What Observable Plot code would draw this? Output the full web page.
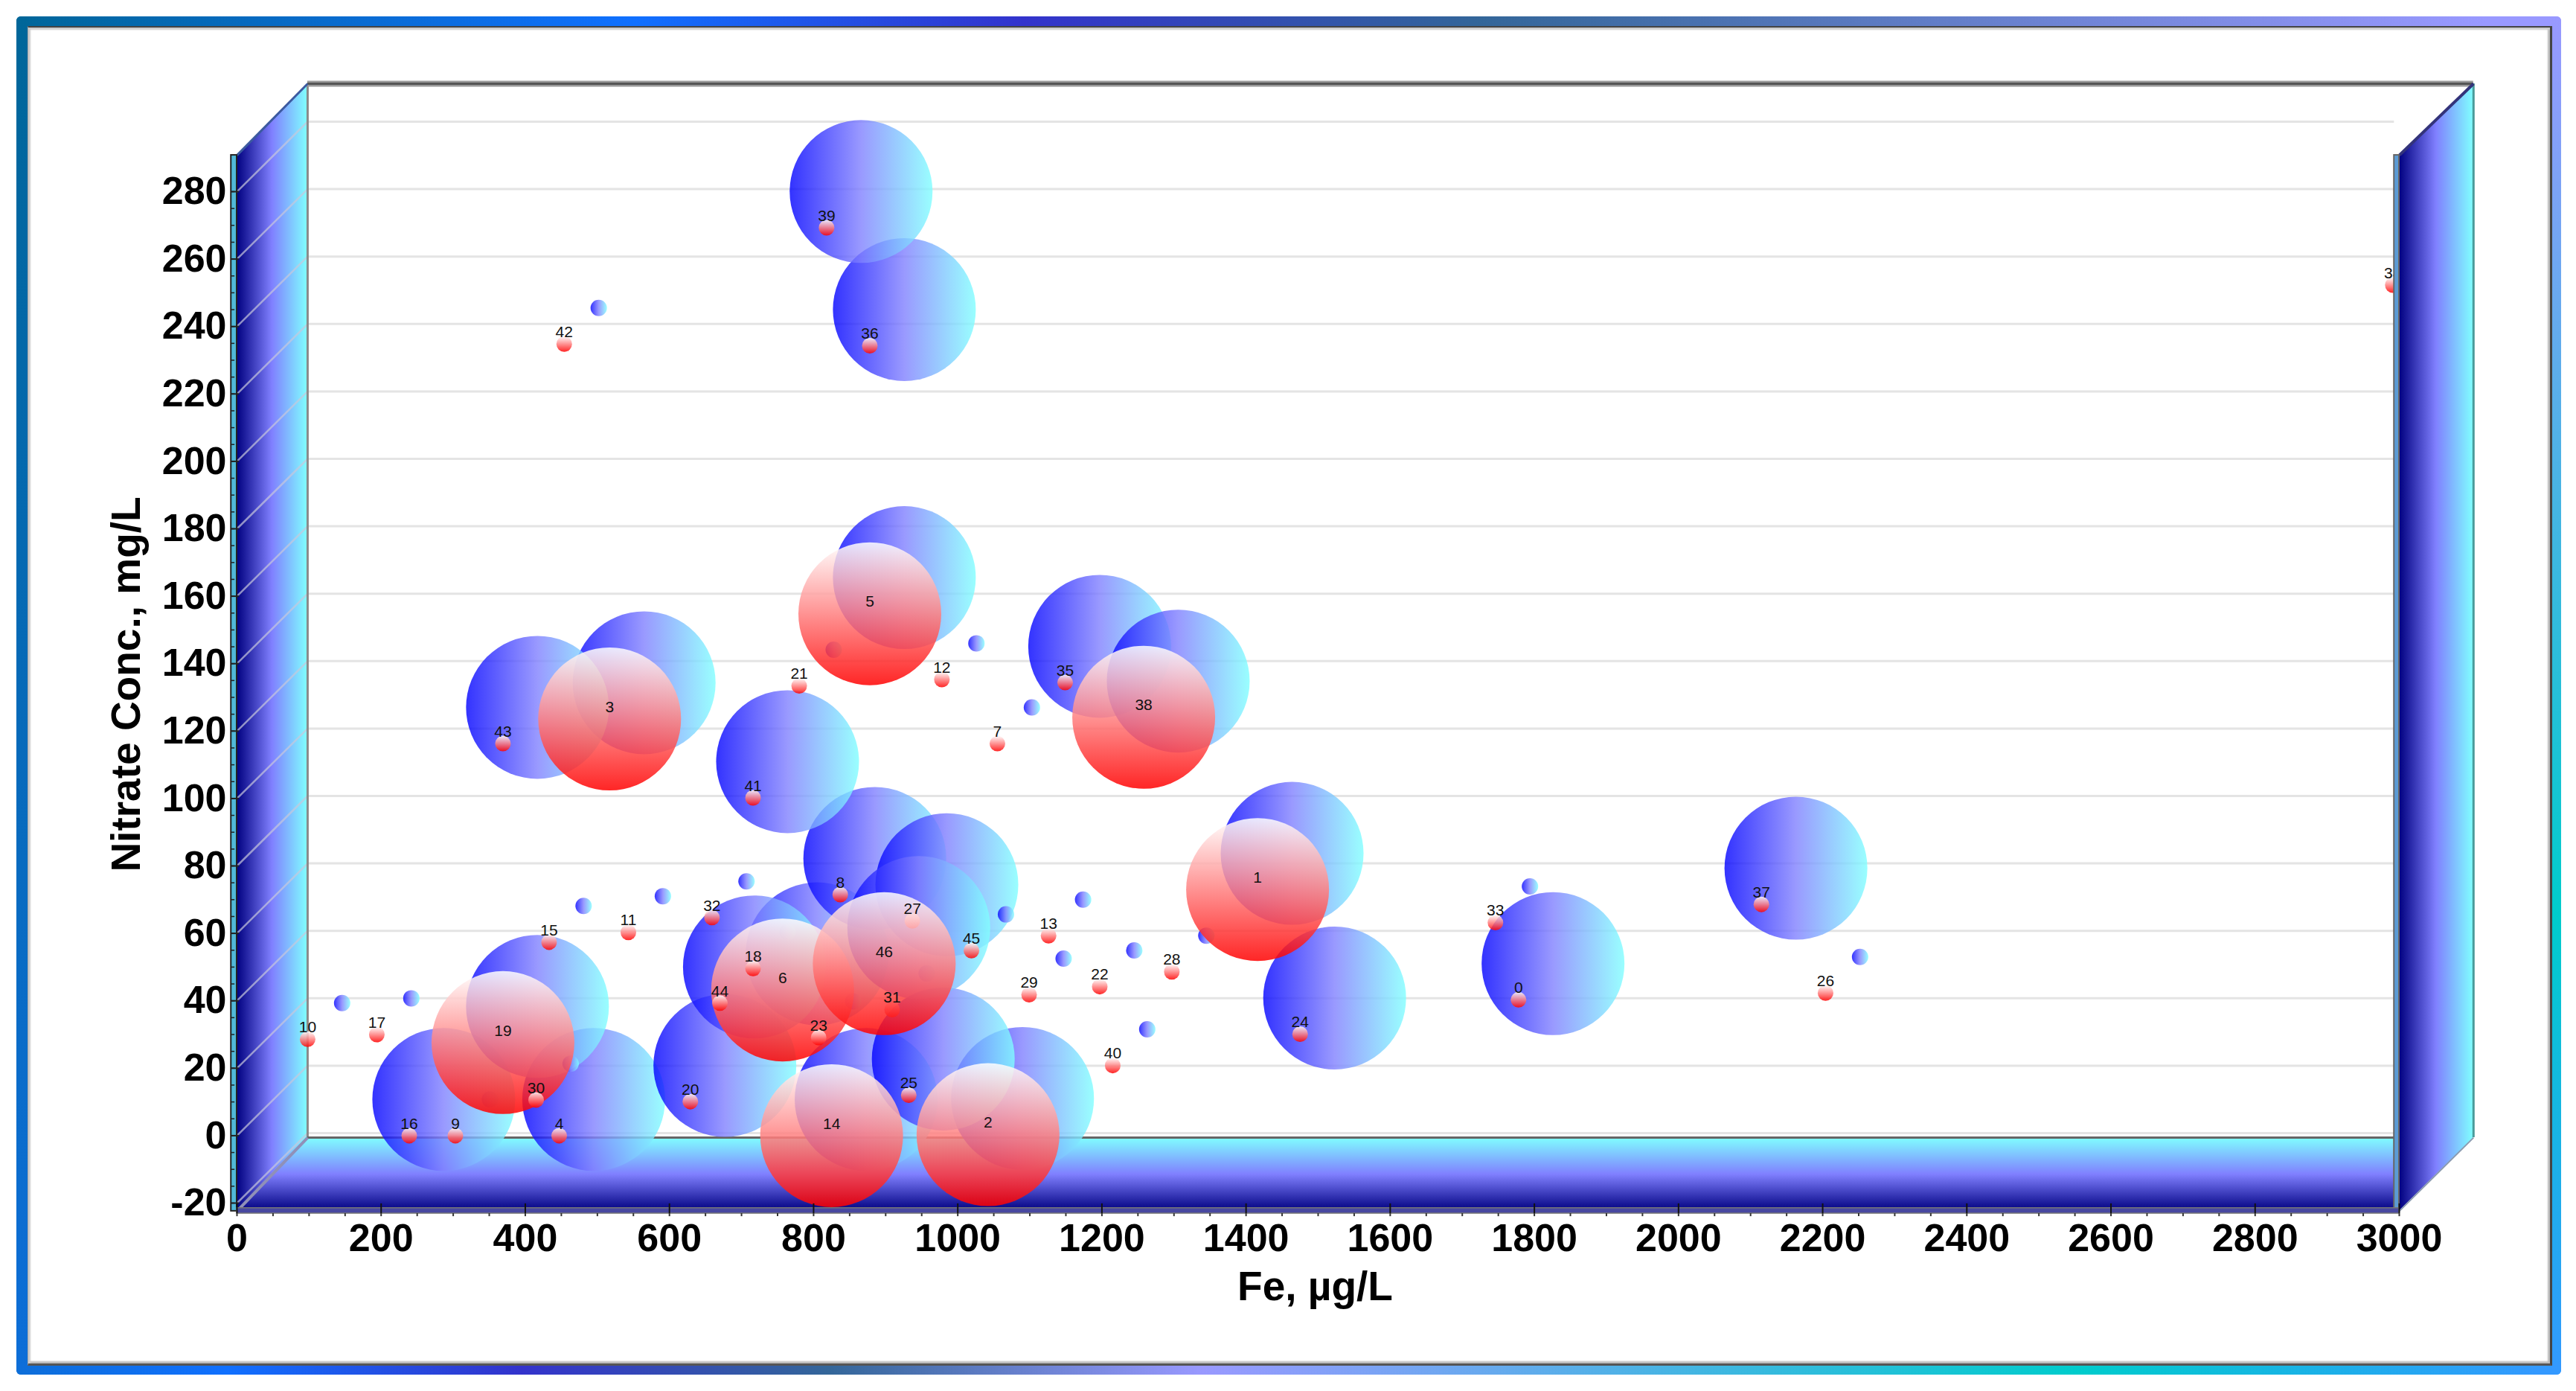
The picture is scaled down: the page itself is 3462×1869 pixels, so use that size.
<!DOCTYPE html>
<html>
<head>
<meta charset="utf-8">
<script src="https://cdn.jsdelivr.net/npm/d3@7"></script>
<script src="https://cdn.jsdelivr.net/npm/@observablehq/plot@0.6"></script>
<style>
html,body{margin:0;padding:0;background:#fff;width:3462px;height:1869px;overflow:hidden}
#stage{position:relative;width:3462px;height:1869px}
.edge{position:absolute}
#top{left:22px;top:22px;width:3420px;height:15px;border-radius:6px 6px 0 0;background:linear-gradient(90deg,#006699 0%,#1070ff 24.3%,#3333cc 39.6%,#336699 57.5%,#9999ff 97%,#9999ff 100%)}
#bottom{left:22px;top:1832px;width:3420px;height:15px;border-radius:0 0 6px 6px;background:linear-gradient(90deg,#0d6ed8 0%,#1070ff 8.3%,#3333cc 19.8%,#336699 31.9%,#9999ff 46.6%,#00cccc 81%,#3399ff 99%)}
#left{left:22px;top:22px;width:15px;height:1825px;border-radius:6px 0 0 6px;background:linear-gradient(180deg,#006699,#0d6ed8)}
#right{left:3428px;top:22px;width:14px;height:1825px;border-radius:0 6px 6px 0;background:linear-gradient(180deg,#9999ff 0%,#00cccc 66%,#3399ff 100%)}
#inner{position:absolute;left:37px;top:35px;width:3389px;height:1795px;background:#fff;border-top:2px solid #444;border-right:3px solid #444;border-bottom:3px solid #555;border-left:1px solid #aaa;box-sizing:content-box;box-shadow:inset 3px 3px 2px #ccc,inset -3px -3px 2px #bbb}
#stage svg{position:absolute;left:0;top:0}
</style>
</head>
<body>
<div id="stage">
<div class="edge" id="top"></div><div class="edge" id="left"></div><div class="edge" id="right"></div><div class="edge" id="bottom"></div>
<div id="inner"></div>
</div>
<script>
// Fe (µg/L) of well 0..46
const fe = [1778,1416,1042,517,447,878,757,1055,837,303,98,543,978,1126,825,433,239,194,716,369,629,780,1197,807,1475,932,2204,937,1297,1099,415,909,659,1746,2991,1149,878,2115,1258,818,1215,716,454,369,670,1019,898];
// Nitrate (mg/L) of well 0..46
const nitrate = [40.3,73,0.3,123.6,0,154.8,43.2,116.3,71.5,0,28.6,60.3,135.3,59.3,0,57.4,0,30,49.6,27.6,10.1,133.4,44.2,29.1,30.1,12,42.3,63.7,48.6,41.8,10.6,37.4,64.7,63.2,252.3,134.4,234.3,68.6,124.1,269.3,20.8,100.2,234.8,116.3,39.3,54.9,51];
// wells with a large bubble in each series
const largeRed = [1,2,3,5,6,14,19,38,46];
const largeBlue = [0,1,2,3,4,5,6,8,14,16,19,20,24,25,27,35,36,37,38,39,41,43,44,46];
const xTicks = d3.range(0, 3001, 200);
const xMinorTicks = d3.range(0, 3001, 50);
const yTicks = d3.range(-20, 281, 20);
const yMinorTicks = d3.range(-20, 281, 5);

const wells = fe.map((x, i) => ({id: i, x, y: nitrate[i]}));

// box extents in axis units
const yLow = -22.4, yHigh = 290.8, backLow = -0.6, backHigh = 312, backX = 98, xEnd = 3000, xOut = 3103, backGridEnd = 2895, gridDepth = 20.75;
const font = "'Liberation Sans', Arial, sans-serif";
const blueShift = {dx: 46.4, dy: -48.6};
const depth = {dx: 95, dy: -94};
const bubble = (list, small) => d => list.includes(d.id) ? 96 : small;

const defs = () => {
  const g = d3.create("svg:g");
  g.html(`<defs>
  <linearGradient id="wallH" x1="0" x2="1" y1="0" y2="0"><stop offset="0" stop-color="#000080"/><stop offset=".5" stop-color="#8080ff"/><stop offset="1" stop-color="#80ffff"/></linearGradient>
  <linearGradient id="floorV" x1="0" x2="0" y1="0" y2="1"><stop offset="0" stop-color="#80ffff"/><stop offset=".5" stop-color="#8080ff"/><stop offset="1" stop-color="#000080"/></linearGradient>
  <linearGradient id="bubbleBlue" x1="0" x2="1" y1="0" y2="0"><stop offset="0" stop-color="#0000ff"/><stop offset=".5" stop-color="#8080ff"/><stop offset="1" stop-color="#80ffff"/></linearGradient>
  <linearGradient id="bubbleRed" x1="0" x2="0" y1="0" y2="1"><stop offset="0" stop-color="#ffffff"/><stop offset="1" stop-color="#ff0000"/></linearGradient>
  </defs>`);
  return g.node();
};

const chart = Plot.plot({
  width: 3462, height: 1869,
  marginLeft: 310, marginRight: 238, marginTop: 208, marginBottom: 239,
  style: {background: "transparent"},
  x: {domain: [0, xEnd], range: [318, 3224]},
  y: {domain: [-20, 280], range: [1616, 257]},
  r: {type: "identity"},
  marks: [
    defs,
    // floor and left wall
    Plot.area([{x:0,lo:yLow,hi:yLow},{x:backX,lo:yLow,hi:backLow},{x:2993,lo:yLow,hi:backLow},{x:xEnd,lo:yLow,hi:yLow}], {x1:"x",y1:"lo",y2:"hi",fill:"url(#floorV)"}),
    Plot.area([{x:0,lo:yLow,hi:yHigh},{x:backX,lo:backLow,hi:backHigh}], {x1:"x",y1:"lo",y2:"hi",fill:"url(#wallH)"}),
    // gridlines
    Plot.ruleY(yTicks, {x1: 0, x2: backGridEnd, stroke: "#e4e4e4", strokeWidth: 3, ...depth}),
    Plot.link(yTicks, {x1: () => 0, y1: d => d, x2: () => backX, y2: d => d + gridDepth, stroke: "#c8c8dc", strokeOpacity: 0.7, strokeWidth: 2.5}),
    // box edges
    Plot.ruleX([backX], {y1: backLow, y2: backHigh, stroke: "#8a8a8a", strokeWidth: 3}),
    Plot.ruleY([backHigh], {x1: backX, x2: xOut, stroke: "#999", strokeWidth: 8}),
    Plot.ruleY([backHigh], {x1: backX, x2: xOut, stroke: "#555", strokeWidth: 3}),
    Plot.ruleY([backLow], {x1: backX, x2: 2993, stroke: "#666", strokeWidth: 3}),
    Plot.link([0], {x1: () => 0, y1: () => yHigh, x2: () => backX, y2: () => backHigh, stroke: "#3c5aa0", strokeWidth: 3}),
    Plot.link([0], {x1: () => 0, y1: () => yLow, x2: () => backX, y2: () => backLow, stroke: "#9090b8", strokeWidth: 4}),
    // series, drawn in well order
    Plot.dot(wells, {x: "x", y: "y", r: bubble(largeBlue, 11), sort: null, fill: "url(#bubbleBlue)", fillOpacity: 0.8, ...blueShift}),
    Plot.dot(wells, {x: "x", y: "y", r: bubble(largeRed, 10.5), sort: null, fill: "url(#bubbleRed)", fillOpacity: 0.85}),
    Plot.text(wells, {x: "x", y: "y", text: "id", dy: -16, fontSize: 21, fill: "#111", fontFamily: font}),
    // right panel and front strips
    Plot.area([{x:xEnd,lo:yLow,hi:yHigh},{x:xOut,lo:backLow,hi:backHigh}], {x1:"x",y1:"lo",y2:"hi",fill:"url(#wallH)"}),
    Plot.ruleX([xOut], {y1: backLow, y2: backHigh, stroke: "#4a9a9a", strokeWidth: 3}),
    Plot.link([0], {x1: () => xEnd, y1: () => yHigh, x2: () => xOut, y2: () => backHigh, stroke: "#33337a", strokeWidth: 4}),
    Plot.link([0], {x1: () => xEnd, y1: () => yLow, x2: () => xOut, y2: () => backLow, stroke: "#8a9ab0", strokeWidth: 2}),
    Plot.rect([0], {x1: () => 2993, x2: () => xEnd, y1: () => yLow, y2: () => yHigh, fill: "#5b9bd5", stroke: "#666", strokeWidth: 2}),
    Plot.rect([0], {x1: () => -8, x2: () => 0, y1: () => yLow, y2: () => yHigh, fill: "#50b8d8", stroke: "#222", strokeWidth: 2}),
    Plot.rect([0], {x1: () => 0, x2: () => xEnd, y1: () => -23.1, y2: () => -21.5, fill: "#4848a0", stroke: "#777", strokeWidth: 1.5}),
    // ticks
    Plot.ruleY(yMinorTicks, {x1: -8, x2: -3, stroke: "#222", strokeWidth: 1.5}),
    Plot.ruleY(yTicks, {x1: -8, x2: 3, stroke: "#222", strokeWidth: 2}),
    Plot.ruleX(xMinorTicks, {y1: -24, y2: -23.1, stroke: "#333", strokeWidth: 2}),
    Plot.ruleX(xTicks, {y1: -23.1, y2: -20.2, stroke: "#111", strokeWidth: 2}),
    // axes
    Plot.axisX(xTicks, {anchor: "bottom", tickSize: 0, tickPadding: 14, fontSize: 52, fontWeight: "bold", fontFamily: font, fill: "#000", tickFormat: String, label: null}),
    Plot.axisY(yTicks, {anchor: "left", tickSize: 0, tickPadding: 6, fontSize: 52, fontWeight: "bold", fontFamily: font, fill: "#000", tickFormat: String, label: null}),
    Plot.axisX([], {anchor: "bottom", tickSize: 0, fontSize: 55, fontWeight: "bold", fontFamily: font, fill: "#000",
      label: "Fe, µg/L", labelAnchor: "center", labelArrow: "none", labelOffset: 116}),
    Plot.axisY([], {anchor: "left", tickSize: 0, fontSize: 55, fontWeight: "bold", fontFamily: font, fill: "#000",
      label: "Nitrate Conc., mg/L", labelAnchor: "center", labelArrow: "none", labelOffset: 162})
  ]
});
document.getElementById("stage").appendChild(chart);
</script>
</body>
</html>
